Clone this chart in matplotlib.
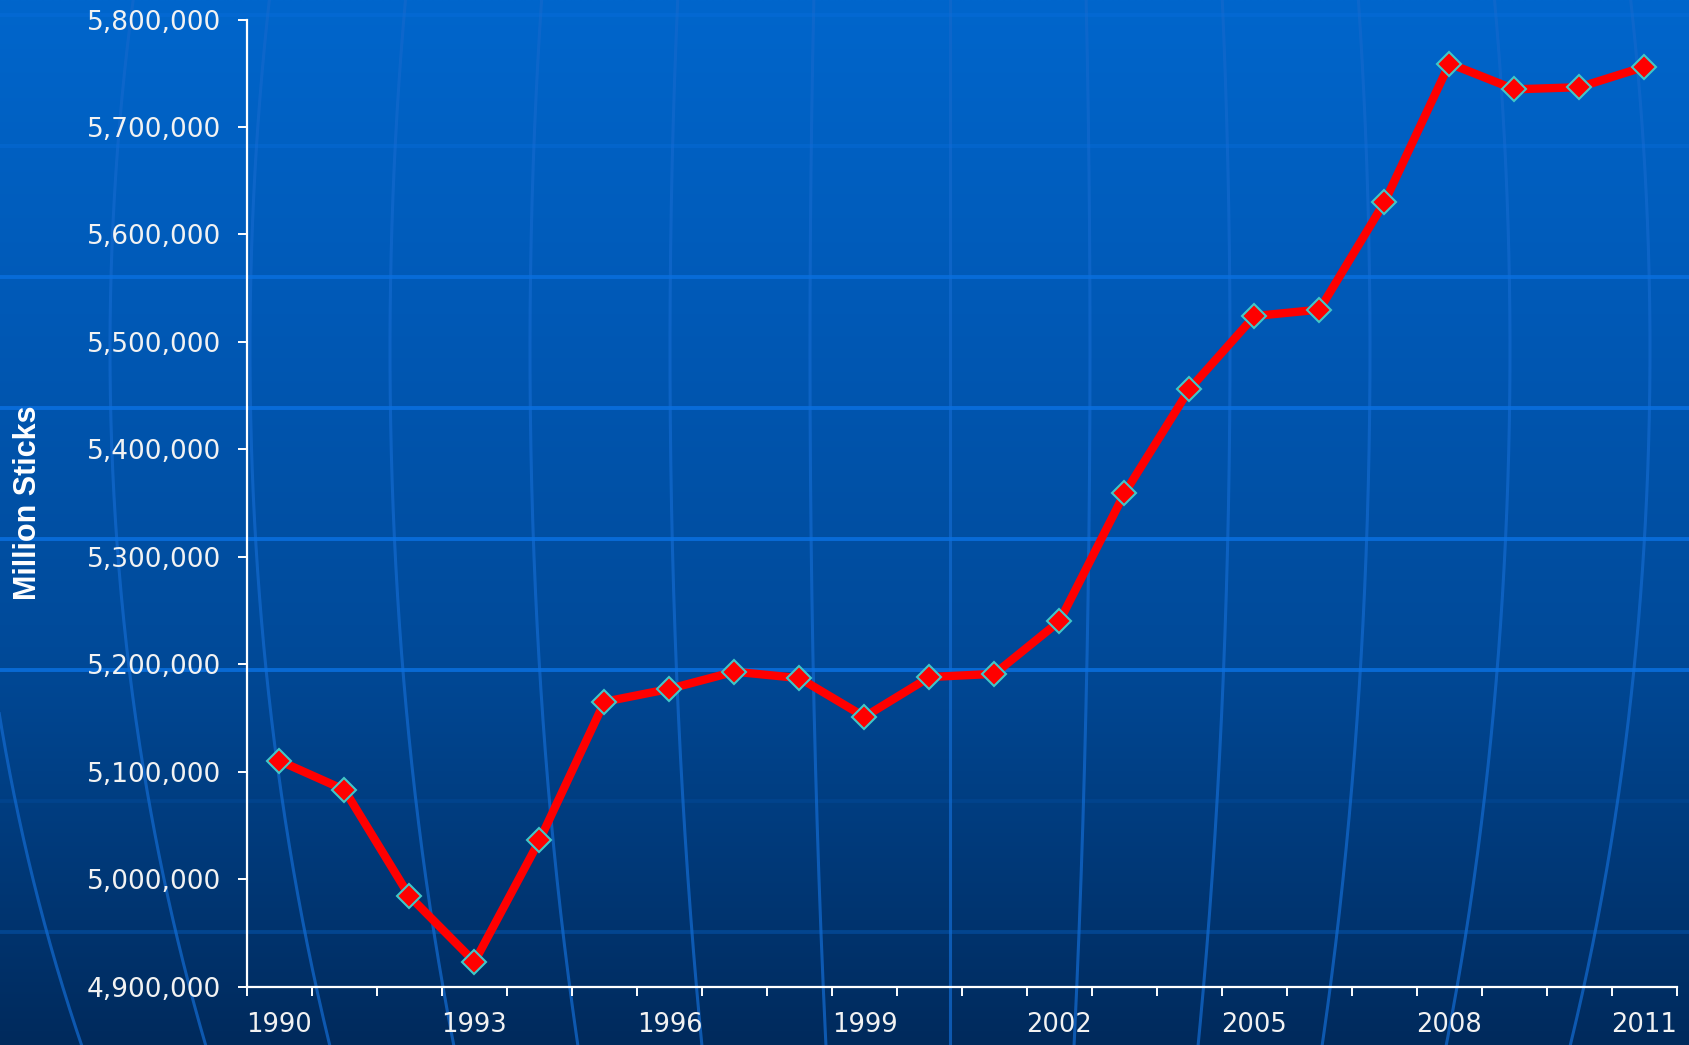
import numpy as np
import matplotlib
matplotlib.use("Agg")
import matplotlib.pyplot as plt
from matplotlib.ticker import FuncFormatter, FixedLocator, MultipleLocator

# ---- data ----
years = [str(y) for y in range(1990, 2012)]
sticks = [5110000, 5083000, 4984000, 4923000, 5036000, 5165000, 5177000,
          5193000, 5187000, 5151000, 5188000, 5191000, 5240000, 5359000,
          5456000, 5524000, 5530000, 5630000, 5759000, 5735000, 5737000,
          5756000]
y_label = "Million Sticks"
y_min, y_max, y_step = 4900000, 5800000, 100000

W, H = 1690, 1045
fig = plt.figure(figsize=(W / 100, H / 100), dpi=100)

# ---- decorative background (gradient + globe lines) ----
bg = fig.add_axes([0, 0, 1, 1], zorder=-10)
stops_pos = np.array([0.0, 0.3, 0.62, 1.0])
stops_col = np.array([[0, 102, 204], [0, 89, 182], [0, 74, 153], [0, 42, 92]]) / 255
t = np.linspace(0, 1, 400)
grad = np.stack([np.interp(t, stops_pos, stops_col[:, c]) for c in range(3)], axis=1)
img = np.repeat(grad[:, None, :], 4, axis=1)
bg.imshow(img, extent=[0, W, H, 0], aspect="auto", interpolation="bilinear")
bg.set_xlim(0, W)
bg.set_ylim(H, 0)
bg.axis("off")

# meridians of a big globe
cx, cy, R = 950, 350, 1500
yy = np.linspace(-10, H + 10, 300)
coslat = np.sqrt(1 - ((yy - cy) / R) ** 2)
for k in range(-8, 7):
    xx = cx + k * 140 * coslat
    bg.plot(xx, yy, color="#1268cc", alpha=0.75, lw=2.2, solid_capstyle="butt")

# latitude bands
for yl, a in [(15, 0.35), (145.7, 0.35), (276.7, 0.8), (408, 0.85), (538.7, 0.85),
              (670, 0.85), (801, 0.12), (931.7, 0.3)]:
    bg.plot([0, W], [yl, yl], color="#0a70e0", alpha=a, lw=2.8)

# ---- main chart ----
ax = fig.add_axes([247 / W, (H - 986.5) / H, (1677 - 247) / W, (986.5 - 19.5) / H])
ax.set_facecolor("none")
x = np.arange(len(years))
ax.plot(x, sticks, color="#ff0000", lw=6, marker="D", ms=12.5,
        markerfacecolor="#ff0000", markeredgecolor="#40c8c8", mew=1.5,
        solid_joinstyle="miter", zorder=3)

ax.set_xlim(-0.5, len(years) - 0.5)
ax.set_ylim(y_min, y_max)

for s in ["top", "right"]:
    ax.spines[s].set_visible(False)
for s in ["left", "bottom"]:
    ax.spines[s].set_color("white")
    ax.spines[s].set_linewidth(1.6)

ax.yaxis.set_major_locator(MultipleLocator(y_step))
ax.yaxis.set_major_formatter(FuncFormatter(lambda v, p: f"{int(round(v)):,}"))
ax.tick_params(axis="y", colors="white", labelcolor="#f2f2f2", length=6.5,
               width=1.4, pad=12, labelsize=19)

ax.xaxis.set_major_locator(FixedLocator(np.arange(-0.5, len(years), 1)))
ax.xaxis.set_major_formatter(FuncFormatter(lambda v, p: ""))
ax.set_xticks(x[::3], minor=True)
ax.set_xticklabels(years[::3], minor=True)
ax.tick_params(axis="x", which="major", colors="white", length=6.5, width=1.4)
ax.tick_params(axis="x", which="minor", length=0, pad=18, labelsize=18.5,
               labelcolor="#f2f2f2")

fig.text(28 / W, 1 - 503 / H, y_label, rotation=90, ha="center", va="center",
         color="white", fontsize=22, fontweight="bold", family="Liberation Sans")

fig.savefig("out.png", dpi=100)
